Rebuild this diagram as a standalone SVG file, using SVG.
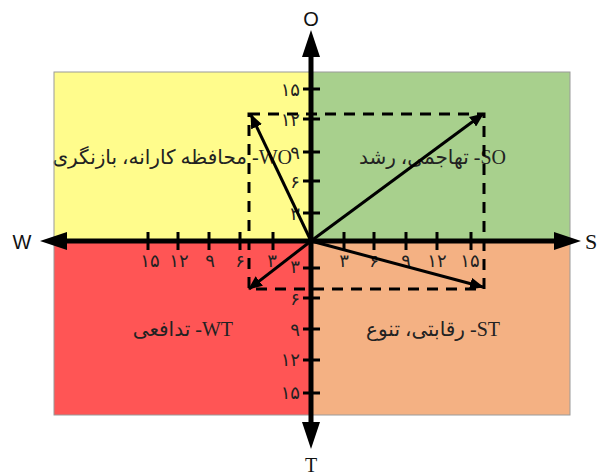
<svg xmlns="http://www.w3.org/2000/svg" width="600" height="476" viewBox="0 0 600 476">
<defs>
<style>
.lbl{font-family:"Liberation Serif","DejaVu Serif","DejaVu Sans",serif;font-size:20px;fill:#222}
.num{font-family:"Liberation Serif","DejaVu Sans",serif;font-size:18px;fill:#222}
.ax{stroke:#000;stroke-width:5;fill:none}
.tick{stroke:#000;stroke-width:3}
.dash{stroke:#000;stroke-width:3;stroke-dasharray:11 8;fill:none}
.vec{stroke:#000;stroke-width:3;fill:none;marker-end:url(#ah)}
</style>
<marker id="ah" markerUnits="userSpaceOnUse" markerWidth="14" markerHeight="12" refX="13" refY="6" orient="auto">
<path d="M0,0 L14,6 L0,12 z" fill="#000"/>
</marker>
</defs>
<rect width="600" height="476" fill="#fff"/>
<g id="q-wo"><rect x="54" y="72" width="257" height="169" fill="#FFFC8C"/>
<text class="lbl" x="292" y="164" direction="rtl" text-anchor="start">WO- محافظه کارانه، بازنگری</text></g>
<g id="q-so"><rect x="311" y="72" width="259" height="169" fill="#A8D08D"/>
<text class="lbl" x="506" y="164" direction="rtl" text-anchor="start">SO- تهاجمی، رشد</text></g>
<g id="q-wt"><rect x="54" y="241" width="257" height="174" fill="#FF5555"/>
<text class="lbl" x="233" y="336" direction="rtl" text-anchor="start">WT- تدافعی</text></g>
<g id="q-st"><rect x="311" y="241" width="259" height="174" fill="#F4B183"/>
<text class="lbl" x="500" y="336" direction="rtl" text-anchor="start">ST- رقابتی، تنوع</text></g>
<rect x="54" y="72" width="516" height="343" fill="none" stroke="#9a9a9a" stroke-width="1"/>
<g id="dashed-box"><rect class="dash" x="249" y="114" width="235" height="175"/></g>
<g id="axes">
<line class="ax" x1="311" y1="54" x2="311" y2="424"/>
<line class="ax" x1="64" y1="241" x2="556" y2="241"/>
<polygon points="311,30 302,57 320,57"/>
<polygon points="311,449 302,422 320,422"/>
<polygon points="40,241 67,232 67,250"/>
<polygon points="581,241 554,232 554,250"/>
<text x="311" y="26" font-family="Liberation Sans, Arial, sans-serif" font-size="20" text-anchor="middle" fill="#111">O</text>
<text x="311" y="472" font-family="Liberation Serif, serif" font-size="20" text-anchor="middle" fill="#111">T</text>
<text x="22" y="249" font-family="Liberation Sans, Arial, sans-serif" font-size="20" text-anchor="middle" fill="#111">W</text>
<text x="591" y="249" font-family="Liberation Serif, serif" font-size="22" text-anchor="middle" fill="#111">S</text>
</g>
<g id="ticks">
<line class="tick" x1="303" y1="89" x2="320" y2="89"/>
<line class="tick" x1="303" y1="119" x2="320" y2="119"/>
<line class="tick" x1="303" y1="152" x2="320" y2="152"/>
<line class="tick" x1="303" y1="181" x2="320" y2="181"/>
<line class="tick" x1="303" y1="213" x2="320" y2="213"/>
<line class="tick" x1="303" y1="268" x2="320" y2="268"/>
<line class="tick" x1="303" y1="298" x2="320" y2="298"/>
<line class="tick" x1="303" y1="329" x2="320" y2="329"/>
<line class="tick" x1="303" y1="360" x2="320" y2="360"/>
<line class="tick" x1="303" y1="393" x2="320" y2="393"/>
<line class="tick" x1="344" y1="232" x2="344" y2="250"/>
<line class="tick" x1="374" y1="232" x2="374" y2="250"/>
<line class="tick" x1="406" y1="232" x2="406" y2="250"/>
<line class="tick" x1="437" y1="232" x2="437" y2="250"/>
<line class="tick" x1="471" y1="232" x2="471" y2="250"/>
<line class="tick" x1="148" y1="232" x2="148" y2="250"/>
<line class="tick" x1="178" y1="232" x2="178" y2="250"/>
<line class="tick" x1="209" y1="232" x2="209" y2="250"/>
<line class="tick" x1="240" y1="232" x2="240" y2="250"/>
<line class="tick" x1="273" y1="232" x2="273" y2="250"/>
<g class="num" text-anchor="end">
<text x="300" y="96">۱۵</text>
<text x="300" y="126">۱۲</text>
<text x="300" y="159">۹</text>
<text x="300" y="188">۶</text>
<text x="300" y="220">۳</text>
<text x="300" y="273">۳</text>
<text x="300" y="305">۶</text>
<text x="300" y="336">۹</text>
<text x="300" y="366">۱۲</text>
<text x="300" y="399">۱۵</text>
</g>
<g class="num" text-anchor="middle">
<text x="344" y="267">۳</text>
<text x="374" y="267">۶</text>
<text x="406" y="267">۹</text>
<text x="437" y="267">۱۲</text>
<text x="470" y="267">۱۵</text>
<text x="150" y="267">۱۵</text>
<text x="179" y="267">۱۲</text>
<text x="210" y="267">۹</text>
<text x="240" y="267">۶</text>
<text x="272" y="267">۳</text>
</g>
</g>
<g id="connectors">
<line class="vec" x1="311" y1="241" x2="251" y2="115"/>
<line class="vec" x1="311" y1="241" x2="483" y2="114"/>
<line class="vec" x1="311" y1="241" x2="249" y2="289"/>
<line class="vec" x1="311" y1="241" x2="483" y2="287"/>
</g>
</svg>
